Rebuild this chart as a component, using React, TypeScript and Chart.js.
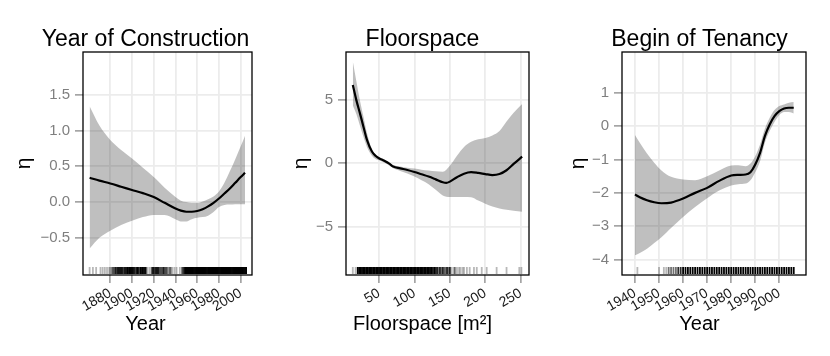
import React, { useEffect, useRef } from "react";
import { Chart, registerables } from "chart.js";
Chart.register(...registerables);

const FONT = "'Liberation Sans', Arial, Helvetica, sans-serif";

// ---------- Panel 1: Year of Construction ----------
const constrX = [1861, 1870, 1880, 1890, 1900, 1910, 1920, 1930, 1940, 1945, 1950, 1955, 1960, 1965, 1970, 1975, 1980, 1985, 1990, 1995, 2000, 2004];
const constrFit = [0.34, 0.3, 0.26, 0.215, 0.17, 0.125, 0.07, -0.01, -0.09, -0.12, -0.135, -0.135, -0.125, -0.1, -0.06, -0.01, 0.05, 0.12, 0.19, 0.27, 0.35, 0.41];
const constrUpper = [1.34, 1.07, 0.87, 0.73, 0.61, 0.48, 0.35, 0.2, 0.07, 0.02, 0.0, -0.01, -0.01, 0.01, 0.04, 0.08, 0.15, 0.27, 0.43, 0.6, 0.78, 0.93];
const constrLower = [-0.65, -0.5, -0.4, -0.32, -0.26, -0.21, -0.18, -0.18, -0.24, -0.27, -0.27, -0.24, -0.22, -0.21, -0.19, -0.14, -0.07, -0.04, -0.035, -0.03, -0.03, -0.03];
const constrRugYears = [1861, 1864, 1867, 1871, 1873, 1875, 1877, 1879, 1880, 1881, 1882, 1883, 1884, 1885, 1886, 1887, 1888, 1889, 1890, 1891, 1892, 1893, 1894, 1895, 1896, 1897, 1898, 1899, 1900, 1901, 1902, 1903, 1904, 1905, 1906, 1907, 1908, 1909, 1910, 1911, 1912, 1913, 1914, 1916, 1918, 1919, 1920, 1921, 1922, 1923, 1924, 1925, 1926, 1927, 1928, 1929, 1930, 1931, 1932, 1933, 1934, 1935, 1936, 1937, 1939, 1941, 1944, 1946, 1947, 1948, 1949, 1950, 1951, 1952, 1953, 1954, 1955, 1956, 1957, 1958, 1959, 1960, 1961, 1962, 1963, 1964, 1965, 1966, 1967, 1968, 1969, 1970, 1971, 1972, 1973, 1974, 1975, 1976, 1977, 1978, 1979, 1980, 1981, 1982, 1983, 1984, 1985, 1986, 1987, 1988, 1989, 1990, 1991, 1992, 1993, 1994, 1995, 1996, 1997, 1998, 1999, 2000, 2001, 2002, 2003, 2004, 2005];
const constrRugCounts = [1, 1, 1, 1, 1, 1, 1, 1, 1, 1, 2, 2, 2, 3, 2, 3, 3, 3, 3, 3, 2, 3, 3, 3, 4, 3, 4, 4, 4, 3, 3, 2, 3, 4, 3, 2, 4, 3, 4, 3, 4, 2, 1, 1, 2, 3, 3, 2, 3, 3, 3, 2, 2, 2, 2, 3, 2, 2, 2, 1, 1, 2, 1, 1, 1, 1, 1, 2, 2, 3, 4, 5, 5, 5, 5, 5, 5, 5, 5, 5, 5, 5, 5, 5, 5, 5, 5, 5, 5, 5, 5, 5, 5, 5, 5, 5, 5, 5, 5, 5, 5, 5, 5, 5, 5, 5, 5, 5, 5, 5, 5, 5, 5, 5, 5, 5, 5, 5, 5, 5, 5, 5, 5, 5, 5, 5, 5];
const constrXTicks = [1880, 1900, 1920, 1940, 1960, 1980, 2000];
const constrYTicks = [-0.5, 0, 0.5, 1, 1.5];
const constrYLabels = ["\u22120.5", "0.0", "0.5", "1.0", "1.5"];

// ---------- Panel 2: Floorspace ----------
const floorX = [13, 18, 23, 28, 33, 40, 45, 50, 58, 65, 70, 80, 90, 100, 110, 120, 130, 140, 145, 150, 160, 170, 180, 190, 200, 210, 220, 230, 240, 252];
const floorFit = [6.2, 5.0, 3.97, 2.9, 1.85, 0.93, 0.6, 0.4, 0.18, -0.05, -0.26, -0.4, -0.53, -0.69, -0.87, -1.05, -1.27, -1.5, -1.55, -1.45, -1.1, -0.82, -0.7, -0.76, -0.85, -0.93, -0.85, -0.55, -0.05, 0.53];
const floorUpper = [8.07, 6.5, 5.0, 3.7, 2.4, 1.1, 0.7, 0.45, 0.3, 0.0, -0.13, -0.25, -0.35, -0.42, -0.5, -0.56, -0.62, -0.66, -0.5, -0.2, 0.6, 1.3, 1.7, 1.9, 2.0, 2.2, 2.55, 3.3, 4.0, 4.7];
const floorLower = [4.6, 3.9, 3.0, 2.1, 1.3, 0.6, 0.35, 0.25, 0.05, -0.2, -0.4, -0.6, -0.8, -1.05, -1.35, -1.65, -2.1, -2.55, -2.65, -2.67, -2.67, -2.67, -2.68, -2.95, -3.2, -3.42, -3.57, -3.68, -3.76, -3.84];
const floorRugValues = [13, 17, 20, 22, 24, 26, 28, 30, 32, 34, 36, 38, 40, 42, 44, 46, 48, 50, 52, 54, 56, 58, 60, 62, 64, 66, 68, 70, 72, 74, 76, 78, 80, 82, 84, 86, 88, 90, 92, 94, 96, 98, 100, 102, 104, 106, 108, 110, 112, 114, 116, 118, 120, 122, 124, 126, 128, 130, 132, 134, 136, 138, 140, 142, 144, 146, 148, 150, 152, 155, 157, 160, 163, 165, 168, 170, 174, 178, 184, 188, 195, 202, 216, 230, 248, 251];
const floorRugCounts = [1, 1, 5, 5, 5, 5, 5, 5, 5, 5, 5, 5, 5, 5, 5, 5, 5, 5, 5, 5, 5, 5, 5, 5, 5, 5, 5, 5, 5, 5, 5, 5, 5, 5, 5, 5, 5, 5, 5, 5, 5, 5, 5, 5, 5, 5, 5, 5, 5, 5, 5, 5, 5, 4, 4, 3, 4, 3, 3, 2, 3, 2, 3, 2, 2, 3, 2, 3, 1, 1, 2, 1, 1, 1, 1, 1, 1, 1, 1, 1, 1, 1, 1, 1, 1, 1];
const floorXTicks = [50, 100, 150, 200, 250];
const floorYTicks = [-5, 0, 5];
const floorYLabels = ["\u22125", "0", "5"];

// ---------- Panel 3: Begin of Tenancy ----------
const tenX = [1940, 1942, 1945, 1948, 1951, 1955, 1960, 1965, 1970, 1975, 1980, 1983, 1986, 1988, 1990, 1992, 1994, 1996, 1998, 2000, 2002, 2004, 2006];
const tenFit = [-2.05, -2.13, -2.22, -2.28, -2.31, -2.29, -2.17, -2.0, -1.85, -1.64, -1.48, -1.46, -1.45, -1.38, -1.15, -0.8, -0.3, 0.05, 0.3, 0.45, 0.53, 0.55, 0.55];
const tenUpper = [-0.27, -0.5, -0.82, -1.1, -1.33, -1.52, -1.6, -1.62, -1.5, -1.33, -1.18, -1.17, -1.2, -1.12, -0.9, -0.55, -0.08, 0.25, 0.48, 0.6, 0.65, 0.7, 0.72];
const tenLower = [-3.87, -3.8, -3.67, -3.5, -3.33, -3.05, -2.72, -2.42, -2.16, -1.93, -1.78, -1.74, -1.72, -1.62, -1.38, -1.05, -0.5, -0.15, 0.12, 0.33, 0.42, 0.42, 0.38];
const tenRugYears = [1941, 1950, 1952, 1953, 1954, 1955, 1956, 1957, 1958, 1959, 1960, 1961, 1962, 1963, 1964, 1965, 1966, 1967, 1968, 1969, 1970, 1971, 1972, 1973, 1974, 1975, 1976, 1977, 1978, 1979, 1980, 1981, 1982, 1983, 1984, 1985, 1986, 1987, 1988, 1989, 1990, 1991, 1992, 1993, 1994, 1995, 1996, 1997, 1998, 1999, 2000, 2001, 2002, 2003, 2004, 2005, 2006];
const tenRugCounts = [1, 1, 1, 1, 2, 2, 2, 2, 3, 3, 5, 5, 5, 5, 5, 5, 5, 5, 5, 5, 5, 5, 5, 5, 5, 5, 5, 5, 5, 5, 5, 5, 5, 5, 5, 5, 5, 5, 5, 5, 5, 5, 5, 5, 5, 5, 5, 5, 5, 5, 5, 5, 5, 5, 5, 5, 5];
const tenXTicks = [1940, 1950, 1960, 1970, 1980, 1990, 2000];
const tenYTicks = [-4, -3, -2, -1, 0, 1];
const tenYLabels = ["\u22124", "\u22123", "\u22122", "\u22121", "0", "1"];

type PanelCfg = {
  title: string; xTitle: string;
  x: number[]; fit: number[]; upper: number[]; lower: number[];
  rugValues: number[]; rugCounts: number[];
  xTicks: number[]; yTicks: number[]; yLabels: string[];
  xMin: number; xMax: number; yMin: number; yMax: number;
  yWidth: number; left: number;
};

const panels: PanelCfg[] = [
  { title: "Year of Construction", xTitle: "Year", x: constrX, fit: constrFit, upper: constrUpper, lower: constrLower,
    rugValues: constrRugYears, rugCounts: constrRugCounts, xTicks: constrXTicks, yTicks: constrYTicks, yLabels: constrYLabels,
    xMin: 1854.9, xMax: 2010.4, yMin: -1.02, yMax: 2.1, yWidth: 76, left: 7 },
  { title: "Floorspace", xTitle: "Floorspace [m\u00B2]", x: floorX, fit: floorFit, upper: floorUpper, lower: floorLower,
    rugValues: floorRugValues, rugCounts: floorRugCounts, xTicks: floorXTicks, yTicks: floorYTicks, yLabels: floorYLabels,
    xMin: 3.4, xMax: 261.7, yMin: -8.84, yMax: 8.81, yWidth: 62, left: 284 },
  { title: "Begin of Tenancy", xTitle: "Year", x: tenX, fit: tenFit, upper: tenUpper, lower: tenLower,
    rugValues: tenRugYears, rugCounts: tenRugCounts, xTicks: tenXTicks, yTicks: tenYTicks, yLabels: tenYLabels,
    xMin: 1934.6, xMax: 2011.1, yMin: -4.46, yMax: 2.22, yWidth: 61, left: 561 },
];

const boxPlugin = {
  id: "panelBox",
  afterDatasetsDraw(chart: any, _args: any, opts: any) {
    const { ctx, chartArea: a } = chart;
    const xs = chart.scales.x;
    ctx.save();
    ctx.lineWidth = 1.8;
    (opts.values as number[]).forEach((v, i) => {
      const px = xs.getPixelForValue(v);
      ctx.strokeStyle = `rgba(0,0,0,${Math.min(1, 0.28 * opts.counts[i])})`;
      ctx.beginPath();
      ctx.moveTo(px, a.bottom - 8);
      ctx.lineTo(px, a.bottom - 1);
      ctx.stroke();
    });
    ctx.strokeStyle = "#000";
    ctx.lineWidth = 1.3;
    ctx.strokeRect(a.left, a.top, a.right - a.left, a.bottom - a.top);
    ctx.restore();
  },
  afterDraw(chart: any, _args: any, opts: any) {
    const { ctx } = chart;
    ctx.save();
    ctx.fillStyle = "#000";
    ctx.textAlign = "center";
    ctx.textBaseline = "alphabetic";
    ctx.font = `23px ${FONT}`;
    ctx.fillText(opts.title, chart.width / 2, 46);
    ctx.font = `20px ${FONT}`;
    ctx.fillText(opts.xTitle, chart.width / 2, 330);
    ctx.restore();
  },
};

function buildConfig(p: PanelCfg): any {
  const gridOpts = { color: "#ececec", lineWidth: 1.8, tickColor: "#7f7f7f", tickWidth: 1.2, tickLength: 8 };
  return {
    type: "line",
    data: {
      datasets: [
        { data: p.x.map((v, i) => ({ x: v, y: p.upper[i] })), borderWidth: 0, pointRadius: 0, fill: "+1",
          backgroundColor: "rgba(0,0,0,0.25)", borderColor: "rgba(0,0,0,0)", cubicInterpolationMode: "monotone" },
        { data: p.x.map((v, i) => ({ x: v, y: p.lower[i] })), borderWidth: 0, pointRadius: 0, fill: false,
          borderColor: "rgba(0,0,0,0)", cubicInterpolationMode: "monotone" },
        { data: p.x.map((v, i) => ({ x: v, y: p.fit[i] })), borderWidth: 2.2, pointRadius: 0, fill: false,
          borderColor: "#000", cubicInterpolationMode: "monotone" },
      ],
    },
    options: {
      animation: false,
      responsive: false,
      events: [],
      layout: { padding: { left: 0, right: 32, top: 52, bottom: 0 } },
      plugins: {
        legend: { display: false },
        tooltip: { enabled: false },
        title: { display: false },
        panelBox: { values: p.rugValues, counts: p.rugCounts, title: p.title, xTitle: p.xTitle },
      },
      scales: {
        x: {
          type: "linear", min: p.xMin, max: p.xMax,
          afterBuildTicks: (s: any) => { s.ticks = p.xTicks.map((v) => ({ value: v })); },
          afterFit: (s: any) => { s.height = 81; },
          ticks: { autoSkip: false, minRotation: 30, maxRotation: 30, color: "#1a1a1a",
            font: { family: FONT, size: 14 }, padding: 2, callback: (v: any) => String(v) },
          grid: gridOpts,
          border: { display: false },
          title: { display: false },
        },
        y: {
          type: "linear", min: p.yMin, max: p.yMax,
          afterBuildTicks: (s: any) => { s.ticks = p.yTicks.map((v) => ({ value: v })); },
          afterFit: (s: any) => { s.width = p.yWidth; },
          ticks: { color: "#7f7f7f", font: { family: FONT, size: 15 }, padding: 5,
            callback: (v: any) => p.yLabels[p.yTicks.indexOf(v)] },
          grid: gridOpts,
          border: { display: false },
          title: { display: true, text: "\u03B7", color: "#000", font: { family: FONT, size: 21 },
            padding: { top: 4.4, bottom: 0 } },
        },
      },
    },
    plugins: [boxPlugin],
  };
}

function Panel({ cfg }: { cfg: PanelCfg }) {
  const ref = useRef<HTMLCanvasElement | null>(null);
  useEffect(() => {
    if (!ref.current) return;
    const chart = new Chart(ref.current, buildConfig(cfg));
    return () => chart.destroy();
  }, [cfg]);
  return (
    <canvas ref={ref} width={277} height={356}
      style={{ position: "absolute", left: cfg.left, top: 0, width: 277, height: 356 }} />
  );
}

export default function App() {
  return (
    <div style={{ position: "fixed", left: 0, top: 0, width: 830, height: 356, overflow: "hidden", background: "#fff" }}>
      {panels.map((p) => <Panel key={p.title} cfg={p} />)}
    </div>
  );
}
